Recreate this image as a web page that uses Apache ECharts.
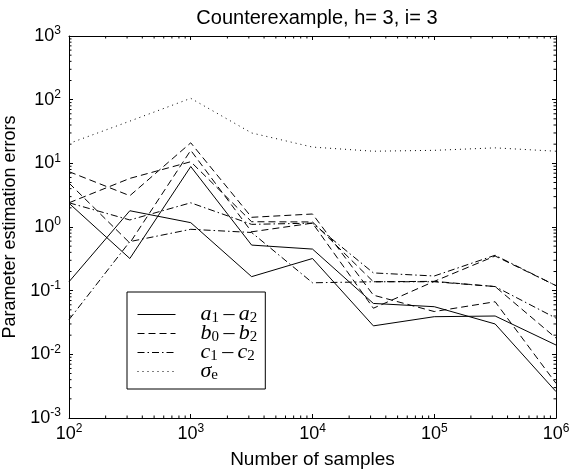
<!DOCTYPE html>
<html>
<head>
<meta charset="utf-8">
<script src="https://cdn.jsdelivr.net/npm/echarts@6/dist/echarts.min.js"></script>
<style>
  html, body { margin: 0; padding: 0; background: #fff; }
  #chart { width: 570px; height: 474px; }
</style>
</head>
<body>
<div id="chart"></div>
<script>
  // number of samples (x), every half decade
  var samples = [100, 316, 1000, 3162, 10000, 31623, 100000, 316228, 1000000];

  // a1-a2 (solid)
  var aErr1 = [2.36, 0.32, 8.9, 0.52, 0.45, 0.063, 0.056, 0.030, 0.0026];
  var aErr2 = [0.138, 1.8, 1.17, 0.166, 0.32, 0.028, 0.039, 0.040, 0.014];
  // b0-b2 (dashed)
  var bErr1 = [7.4, 3.1, 21, 1.42, 1.6, 0.085, 0.047, 0.067, 0.0035];
  var bErr2 = [2.4, 5.8, 10.6, 1.21, 1.2, 0.138, 0.14, 0.116, 0.018];
  var bErr3 = [4.9, 0.56, 16, 0.84, 1.15, 0.053, 0.14, 0.35, 0.12];
  // c1-c2 (dash-dot)
  var cErr1 = [2.4, 1.29, 2.4, 1.1, 1.15, 0.19, 0.17, 0.36, 0.12];
  var cErr2 = [0.035, 0.59, 0.92, 0.82, 0.133, 0.138, 0.138, 0.116, 0.037];
  // sigma_e (dotted)
  var sigmaErr = [20.5, 46, 105, 30, 18, 15.5, 16, 17.5, 15.5];

  var xMinorTicks = [200, 300, 400, 500, 600, 700, 800, 900,
    2000, 3000, 4000, 5000, 6000, 7000, 8000, 9000,
    20000, 30000, 40000, 50000, 60000, 70000, 80000, 90000,
    200000, 300000, 400000, 500000, 600000, 700000, 800000, 900000];
  var yMinorTicks = [0.002, 0.003, 0.004, 0.005, 0.006, 0.007, 0.008, 0.009,
    0.02, 0.03, 0.04, 0.05, 0.06, 0.07, 0.08, 0.09,
    0.2, 0.3, 0.4, 0.5, 0.6, 0.7, 0.8, 0.9,
    2, 3, 4, 5, 6, 7, 8, 9,
    20, 30, 40, 50, 60, 70, 80, 90,
    200, 300, 400, 500, 600, 700, 800, 900];

  var FONT = 'Liberation Sans';
  var SERIF = 'Liberation Serif';

  var dashed = [7, 4];
  var dashDot = [7, 3, 1.5, 3];
  var dotted = [1, 4];

  function pairs (arr) {
    return samples.map(function (x, i) { return [x, arr[i]]; });
  }

  function lineSeries (name, arr, type) {
    return {
      name: name,
      type: 'line',
      data: pairs(arr),
      symbol: 'none',
      animation: false,
      itemStyle: { color: '#000' },
      lineStyle: { color: '#000', width: 1, type: type }
    };
  }

  function expLabel (v) {
    return '10{p|' + Math.round(Math.log10(v)) + '}';
  }

  var dash = '{m|\u2009\u2013\u2009}';
  var legendText = {
    a: '{i|a}{s|1}' + dash + '{i|a}{s|2}',
    b: '{i|b}{s|0}' + dash + '{i|b}{s|2}',
    c: '{i|c}{s|1}' + dash + '{i|c}{s|2}',
    e: '{i|\u03c3}{s|e}'
  };

  // minor ticks drawn inward on all four sides
  function minorTickSeries (values, isX) {
    return {
      type: 'custom',
      silent: true,
      animation: false,
      clip: false,
      data: values.map(function (v) { return isX ? [v, 1] : [1000, v]; }),
      renderItem: function (params, api) {
        var v = api.value(isX ? 0 : 1);
        var len = 2.5;
        var a, b;
        if (isX) {
          a = api.coord([v, 0.001]);
          b = api.coord([v, 1000]);
          return {
            type: 'group',
            children: [
              { type: 'line', shape: { x1: a[0], y1: a[1], x2: a[0], y2: a[1] - len }, style: { stroke: '#000', lineWidth: 1 } },
              { type: 'line', shape: { x1: b[0], y1: b[1], x2: b[0], y2: b[1] + len }, style: { stroke: '#000', lineWidth: 1 } }
            ]
          };
        }
        a = api.coord([100, v]);
        b = api.coord([1000000, v]);
        return {
          type: 'group',
          children: [
            { type: 'line', shape: { x1: a[0], y1: a[1], x2: a[0] + len, y2: a[1] }, style: { stroke: '#000', lineWidth: 1 } },
            { type: 'line', shape: { x1: b[0], y1: b[1], x2: b[0] - len, y2: b[1] }, style: { stroke: '#000', lineWidth: 1 } }
          ]
        };
      }
    };
  }

  var axisCommon = {
    type: 'log',
    logBase: 10,
    splitLine: { show: false },
    axisLine: { lineStyle: { color: '#000', width: 1 } },
    axisTick: { inside: true, length: 4, lineStyle: { color: '#000' } },
    minorTick: { show: false }
  };

  var tickLabel = {
    color: '#000',
    fontFamily: FONT,
    fontSize: 18,
    formatter: expLabel,
    rich: { p: { fontFamily: FONT, fontSize: 12, padding: [0, 0, 10, 0], color: '#000' } }
  };

  var chart = echarts.init(document.getElementById('chart'), null, { renderer: 'canvas' });

  chart.setOption({
    backgroundColor: '#fff',
    animation: false,
    title: {
      text: 'Counterexample, h= 3, i= 3',
      left: 312,
      textAlign: 'center',
      top: 3,
      textStyle: { fontFamily: FONT, fontSize: 20, fontWeight: 'normal', color: '#000' }
    },
    grid: { left: 69, right: 14, top: 36, bottom: 56, outerBoundsMode: 'none', containLabel: false },
    xAxis: [
      Object.assign({}, axisCommon, {
        min: 100,
        max: 1000000,
        name: 'Number of samples',
        nameLocation: 'middle',
        nameGap: 32,
        nameTextStyle: { fontFamily: FONT, fontSize: 19, color: '#000' },
        axisLabel: Object.assign({ margin: 5 }, tickLabel)
      }),
      Object.assign({}, axisCommon, {
        min: 100,
        max: 1000000,
        position: 'top',
        axisLabel: { show: false }
      })
    ],
    yAxis: [
      Object.assign({}, axisCommon, {
        min: 0.001,
        max: 1000,
        name: 'Parameter estimation errors',
        nameLocation: 'middle',
        nameGap: 42,
        nameTextStyle: { fontFamily: FONT, fontSize: 18, color: '#000' },
        axisLabel: Object.assign({ margin: 8 }, tickLabel)
      }),
      Object.assign({}, axisCommon, {
        min: 0.001,
        max: 1000,
        position: 'right',
        axisLabel: { show: false }
      })
    ],
    legend: {
      orient: 'vertical',
      left: 127,
      top: 292,
      data: ['a', 'b', 'c', 'e'],
      backgroundColor: '#fff',
      borderColor: '#000',
      borderWidth: 1,
      borderRadius: 0,
      padding: [11, 8, 6, 10],
      itemWidth: 38,
      itemHeight: 14,
      itemGap: -4,
      selectedMode: false,
      itemStyle: { color: 'rgba(0,0,0,0)', borderColor: 'rgba(0,0,0,0)', borderWidth: 0 },
      lineStyle: { width: 1 },
      formatter: function (name) { return legendText[name]; },
      textStyle: {
        color: '#000',
        padding: [0, 0, 0, 20],
        lineHeight: 18,
        rich: {
          i: { fontFamily: SERIF, fontStyle: 'italic', fontSize: 22, lineHeight: 18, color: '#000' },
          m: { fontFamily: SERIF, fontSize: 22, lineHeight: 18, color: '#000' },
          s: { fontFamily: SERIF, fontSize: 15, lineHeight: 10, padding: [8, 0, 0, 0], color: '#000' }
        }
      }
    },
    series: [
      lineSeries('a', aErr1, 'solid'),
      lineSeries('a', aErr2, 'solid'),
      lineSeries('b', bErr1, dashed),
      lineSeries('b', bErr2, dashed),
      lineSeries('b', bErr3, dashed),
      lineSeries('c', cErr1, dashDot),
      lineSeries('c', cErr2, dashDot),
      lineSeries('e', sigmaErr, dotted),
      minorTickSeries(xMinorTicks, true),
      minorTickSeries(yMinorTicks, false)
    ]
  });
</script>
</body>
</html>
